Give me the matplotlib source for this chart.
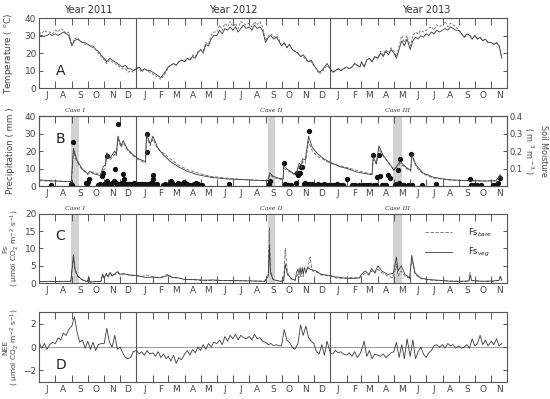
import matplotlib
matplotlib.use("Agg")
import matplotlib.pyplot as plt
import matplotlib.dates as mdates
import matplotlib.ticker as mticker
import numpy as np
import pandas as pd

# ---------------- data ----------------
# temperature, 6 readings per month (days 1,6,11,16,21,26), Jul 2011 - Nov 2013
temp_veg = [
    [30, 30, 29.5, 30, 31, 30], [31, 30, 31, 32, 31, 30], [24, 27, 28, 27, 26, 26],
    [25, 24, 24, 22, 21, 19], [17, 15, 17, 16, 15, 14], [13, 12, 13, 11, 11, 10],
    [11, 12, 10, 11, 10, 10], [9, 8, 7, 6, 8, 10], [12, 13, 14, 13, 15, 16],
    [15, 17, 16, 18, 17, 20], [22, 20, 25, 24, 28, 30], [30, 33, 31, 34, 33, 35],
    [33, 35, 32, 34, 36, 34], [35, 33, 36, 34, 35, 33], [26, 29, 30, 28, 29, 27],
    [24, 26, 23, 25, 22, 21], [20, 18, 19, 17, 15, 16], [13, 11, 9, 10, 12, 14],
    [11, 9, 10, 11, 10, 11], [12, 11, 12, 14, 13, 12], [15, 12, 16, 17, 15, 18],
    [17, 20, 18, 21, 19, 22], [20, 17, 22, 27, 24, 28], [22, 27, 29, 28, 30, 29],
    [31, 30, 32, 31, 33, 32], [33, 34, 33, 35, 34, 33], [33, 31, 29, 31, 30, 28],
    [30, 28, 29, 27, 28, 26], [26, 25, 26, 24, 17, np.nan],
]
temp_bare = [
    [32, 31, 33, 32, 32, 31], [33, 32, 34, 33, 31, 32], [25, 28, 29, 27, 26, 25],
    [25, 24, 23, 22, 20, 18], [16, 14, 16, 15, 14, 13], [12, 11, 11, 9, 10, 9],
    [12, 11, 9, 11, 10, 9], [8, 7, 6, 5, 7, 9], [12, 13, 14, 13, 15, 16],
    [15, 17, 16, 19, 18, 21], [22, 21, 26, 25, 30, 32], [32, 36, 33, 37, 35, 38],
    [35, 37, 34, 38, 37, 36], [37, 35, 38, 36, 38, 35], [27, 30, 31, 29, 30, 28],
    [24, 26, 23, 25, 22, 21], [20, 18, 18, 16, 15, 15], [13, 11, 8, 9, 11, 13],
    [11, 9, 10, 11, 10, 11], [12, 11, 12, 14, 13, 12], [15, 12, 16, 17, 15, 18],
    [17, 21, 19, 22, 20, 23], [21, 18, 24, 30, 26, 30], [24, 30, 32, 31, 33, 32],
    [33, 34, 35, 33, 36, 35], [36, 38, 35, 37, 36, 35], [33, 31, 29, 30, 31, 28],
    [30, 28, 29, 27, 28, 26], [26, 25, 26, 24, 18, np.nan],
]

# NEE, same monthly sampling
nee = [
    [0.4, -0.1, 0.3, -0.2, 0.2, 0.4], [0.3, 0.8, 0.6, 1.2, 1.0, 1.5], [1.8, 2.6, 1.2, 0.4, 0.6, -0.1],
    [0.5, -0.2, 0.4, -0.3, 0.2, 0.3], [0.3, 1.6, 0.4, 0.0, 1.0, -0.2], [0.0, -0.5, -0.9, -1.0, -0.9, -0.4],
    [-0.3, -0.6, -0.4, -0.7, -0.3, -0.6], [-0.5, -0.8, -0.4, -0.9, -0.6, -1.0], [-0.8, -1.2, -0.7, -1.4, -0.9, -1.1],
    [-0.6, -0.3, -0.7, -0.2, -0.5, 0.0], [-0.3, 0.2, -0.2, 0.3, 0.0, 0.4], [0.3, 0.6, 0.2, 0.9, 0.5, 1.0],
    [0.7, 1.1, 0.6, 1.0, 0.8, 0.7], [0.9, 0.6, 1.1, 0.7, 0.8, 0.5], [0.4, 0.2, 0.3, 0.1, 0.2, 0.1],
    [0.1, 1.5, 0.6, 0.4, 0.0, -0.2], [0.3, 1.9, 1.0, 1.8, 0.8, 0.5], [0.3, -0.4, -0.6, 0.2, -0.7, 0.5],
    [-0.5, -0.6, -0.3, -0.5, -0.4, -0.6], [-0.7, -0.5, -0.8, -0.4, -0.9, -0.6], [-0.3, 0.5, -0.8, -0.3, -1.0, -0.6],
    [-0.7, -0.8, -0.6, -0.9, -0.7, -0.5], [-0.4, 0.4, -0.9, 0.2, -1.0, 0.7], [-0.8, 0.6, -1.0, -0.4, 0.0, -0.6],
    [-0.9, -0.5, -0.3, 0.1, 0.2, 0.0], [0.2, -0.1, 0.3, 0.1, 0.2, -0.1], [0.1, -0.1, 0.0, 0.2, -0.1, 0.7],
    [0.1, 0.3, 1.0, 0.2, 0.6, 0.1], [0.5, 0.2, 0.7, 0.1, 0.3, np.nan],
]

# precipitation events (mm)
rain_dates = [
    "2011-07-24", "2011-08-31", "2011-09-01", "2011-09-04", "2011-09-27", "2011-09-29", "2011-10-02",
    "2011-10-04", "2011-10-20", "2011-10-25", "2011-10-28", "2011-10-30", "2011-10-31", "2011-11-03",
    "2011-11-06", "2011-11-07", "2011-11-10", "2011-11-13", "2011-11-16", "2011-11-19", "2011-11-21",
    "2011-11-23", "2011-11-25", "2011-11-27", "2011-11-30", "2011-12-03", "2011-12-05", "2011-12-07",
    "2011-12-08", "2011-12-10", "2011-12-14", "2011-12-18", "2011-12-22", "2011-12-27", "2011-12-31",
    "2012-01-03", "2012-01-06", "2012-01-09", "2012-01-12", "2012-01-15", "2012-01-18", "2012-01-20",
    "2012-01-21", "2012-01-23", "2012-01-26", "2012-01-29", "2012-02-01", "2012-02-02", "2012-02-05",
    "2012-02-08", "2012-02-20", "2012-02-23", "2012-02-26", "2012-03-01", "2012-03-03", "2012-03-06",
    "2012-03-09", "2012-03-12", "2012-03-15", "2012-03-20", "2012-03-26", "2012-03-30", "2012-04-02",
    "2012-04-06", "2012-04-09", "2012-04-14", "2012-04-18", "2012-04-22", "2012-04-27", "2012-05-03",
    "2012-06-24", "2012-09-07", "2012-09-09", "2012-10-05", "2012-10-07", "2012-10-10", "2012-10-14",
    "2012-10-18", "2012-10-28", "2012-10-30", "2012-11-01", "2012-11-03", "2012-11-05", "2012-11-07",
    "2012-11-09", "2012-11-13", "2012-11-15", "2012-11-17", "2012-11-21", "2012-11-22", "2012-11-24",
    "2012-11-28", "2012-12-02", "2012-12-05", "2012-12-08", "2012-12-14", "2012-12-17", "2012-12-20",
    "2012-12-24", "2012-12-27", "2012-12-30", "2013-01-03", "2013-01-06", "2013-01-09", "2013-01-13",
    "2013-01-16", "2013-01-20", "2013-01-25", "2013-02-02", "2013-02-12", "2013-02-16", "2013-02-24",
    "2013-03-04", "2013-03-09", "2013-03-14", "2013-03-18", "2013-03-23", "2013-03-25", "2013-03-28",
    "2013-03-31", "2013-04-03", "2013-04-05", "2013-04-08", "2013-04-12", "2013-04-16", "2013-04-21",
    "2013-04-24", "2013-05-04", "2013-05-06", "2013-05-08", "2013-05-10", "2013-05-13", "2013-05-15",
    "2013-05-20", "2013-05-28", "2013-06-03", "2013-06-05", "2013-06-24", "2013-07-20", "2013-09-22",
    "2013-09-24", "2013-09-30", "2013-10-05", "2013-10-12", "2013-11-05", "2013-11-09", "2013-11-13",
    "2013-11-18",
]
rain_mm = [
    0.5, 1, 0.5, 25, 1.5, 0.5, 2.5,
    4, 0.5, 1, 6, 7.5, 1, 1,
    17, 3, 1, 1, 2, 3, 10,
    2, 1, 35.5, 1, 1, 2, 7,
    4, 1, 1, 1, 1, 1.5, 1,
    1, 0.5, 1, 1, 0.5, 1, 30,
    19.5, 1, 1, 2, 6.5, 4, 1,
    1, 0.5, 1, 0.5, 0.5, 1, 3,
    1.5, 0.5, 0.5, 2, 1, 2.5, 1.5,
    1, 0.5, 0.5, 1, 1.5, 1, 0.5,
    1, 1, 3, 13, 1, 0.5, 0.5,
    0.5, 2, 7.5, 6.5, 7.5, 7.5, 11,
    11, 1, 2, 1, 31.5, 1, 0.5,
    1, 0.5, 0.5, 1, 0.5, 0.5, 1,
    0.5, 0.5, 0.5, 0.5, 0.5, 0.5, 1,
    0.5, 0.5, 0.5, 4, 0.5, 0.5, 0.5,
    0.5, 0.5, 0.5, 0.5, 17.5, 0.5, 0.5,
    5, 17.5, 5.5, 0.5, 0.5, 0.5, 6.5,
    4.5, 0.5, 1, 9, 2, 15.5, 0.5,
    0.5, 0.5, 18.5, 0.5, 0.5, 1, 4,
    0.5, 0.5, 0.5, 0.5, 0.5, 0.5, 1.5,
    4.5,
]

# soil moisture (m3 m-3)
sm_dates = [
    "2011-07-01", "2011-07-24", "2011-08-31", "2011-09-04", "2011-09-10", "2011-09-20", "2011-10-01",
    "2011-10-05", "2011-10-12", "2011-10-25", "2011-10-30", "2011-11-03", "2011-11-06", "2011-11-12",
    "2011-11-21", "2011-11-24", "2011-11-27", "2011-12-03", "2011-12-07", "2011-12-15", "2011-12-25",
    "2012-01-05", "2012-01-18", "2012-01-20", "2012-01-27", "2012-02-01", "2012-02-10", "2012-02-20",
    "2012-03-05", "2012-03-20", "2012-04-05", "2012-04-25", "2012-05-20", "2012-06-20", "2012-07-31",
    "2012-09-05", "2012-09-09", "2012-09-15", "2012-09-25", "2012-10-04", "2012-10-05", "2012-10-12",
    "2012-10-25", "2012-10-30", "2012-11-03", "2012-11-07", "2012-11-10", "2012-11-15", "2012-11-21",
    "2012-11-28", "2012-12-08", "2012-12-20", "2013-01-01", "2013-01-20", "2013-02-02", "2013-02-20",
    "2013-03-10", "2013-03-21", "2013-03-23", "2013-03-29", "2013-04-03", "2013-04-10", "2013-04-22",
    "2013-05-01", "2013-05-08", "2013-05-13", "2013-05-25", "2013-06-02", "2013-06-04", "2013-06-12",
    "2013-06-25", "2013-07-15", "2013-08-15", "2013-09-20", "2013-10-20", "2013-11-10", "2013-11-18",
    "2013-11-22",
]
sm_veg = [
    0.035, 0.030, 0.025, 0.215, 0.15, 0.10, 0.07,
    0.085, 0.07, 0.06, 0.11, 0.12, 0.19, 0.16,
    0.20, 0.18, 0.285, 0.23, 0.26, 0.21, 0.18,
    0.155, 0.14, 0.30, 0.24, 0.285, 0.22, 0.18,
    0.14, 0.11, 0.085, 0.065, 0.05, 0.04, 0.035,
    0.03, 0.075, 0.055, 0.045, 0.04, 0.115, 0.095,
    0.07, 0.085, 0.13, 0.12, 0.155, 0.15, 0.285,
    0.22, 0.185, 0.155, 0.135, 0.11, 0.10, 0.08,
    0.07, 0.065, 0.165, 0.13, 0.23, 0.18, 0.13,
    0.09, 0.12, 0.14, 0.105, 0.09, 0.18, 0.12,
    0.075, 0.05, 0.035, 0.03, 0.028, 0.03, 0.065,
    0.045,
]
sm_bare = [
    0.03, 0.028, 0.025, 0.20, 0.14, 0.095, 0.065,
    0.075, 0.08, 0.065, 0.09, 0.10, 0.17, 0.15,
    0.18, 0.17, 0.265, 0.22, 0.245, 0.205, 0.175,
    0.15, 0.13, 0.28, 0.23, 0.27, 0.21, 0.19,
    0.155, 0.12, 0.095, 0.075, 0.055, 0.045, 0.035,
    0.03, 0.065, 0.05, 0.04, 0.035, 0.10, 0.09,
    0.065, 0.075, 0.11, 0.10, 0.14, 0.13, 0.255,
    0.20, 0.17, 0.15, 0.13, 0.115, 0.105, 0.09,
    0.075, 0.07, 0.15, 0.125, 0.215, 0.175, 0.13,
    0.095, 0.11, 0.13, 0.10, 0.085, 0.175, 0.11,
    0.07, 0.045, 0.035, 0.03, 0.03, 0.03, 0.055,
    0.04,
]

# soil CO2 efflux (umol CO2 m-2 s-1)
fs_dates = [
    "2011-07-01", "2011-07-20", "2011-08-10", "2011-08-30", "2011-09-04", "2011-09-07", "2011-09-12",
    "2011-09-20", "2011-09-30", "2011-10-03", "2011-10-05", "2011-10-26", "2011-10-29", "2011-11-01",
    "2011-11-05", "2011-11-08", "2011-11-12", "2011-11-16", "2011-11-22", "2011-11-26", "2011-12-01",
    "2011-12-08", "2011-12-18", "2012-01-01", "2012-01-12", "2012-01-20", "2012-02-01", "2012-02-15",
    "2012-03-01", "2012-03-08", "2012-03-20", "2012-04-01", "2012-04-20", "2012-05-05", "2012-05-25",
    "2012-06-15", "2012-07-10", "2012-08-05", "2012-08-30", "2012-09-06", "2012-09-08", "2012-09-10",
    "2012-09-15", "2012-09-28", "2012-10-05", "2012-10-08", "2012-10-12", "2012-10-20", "2012-10-27",
    "2012-10-29", "2012-11-01", "2012-11-03", "2012-11-05", "2012-11-07", "2012-11-09", "2012-11-11",
    "2012-11-13", "2012-11-16", "2012-11-19", "2012-11-24", "2012-11-28", "2012-12-05", "2012-12-15",
    "2012-12-31", "2013-01-10", "2013-01-25", "2013-02-10", "2013-02-25", "2013-03-01", "2013-03-08",
    "2013-03-15", "2013-03-20", "2013-03-26", "2013-04-01", "2013-04-08", "2013-04-20", "2013-04-30",
    "2013-05-06", "2013-05-09", "2013-05-15", "2013-05-22", "2013-05-31", "2013-06-04", "2013-06-10",
    "2013-06-20", "2013-07-05", "2013-07-25", "2013-08-15", "2013-09-05", "2013-09-20", "2013-09-22",
    "2013-09-25", "2013-10-15", "2013-11-05", "2013-11-16", "2013-11-18", "2013-11-21",
]
fs_veg = [
    0.4, 0.5, 0.4, 0.5, 8.2, 4.0, 2.0,
    1.0, 0.4, 1.8, 0.3, 0.5, 2.6, 1.5,
    2.8, 1.8, 3.1, 2.0, 2.8, 3.3, 2.5,
    2.7, 2.3, 2.2, 1.8, 1.6, 1.7, 1.5,
    2.2, 1.6, 1.5, 1.0, 1.0, 0.8, 0.9,
    0.7, 0.7, 0.6, 0.5, 2.0, 11.0, 3.0,
    1.0, 0.5, 0.6, 5.5, 2.5, 1.2, 0.8,
    3.0, 4.0, 2.5, 4.5, 2.5, 4.5, 2.5,
    4.5, 3.0, 4.5, 4.0, 3.8, 3.5, 2.5,
    2.2, 1.8, 1.5, 1.3, 1.5, 2.5, 3.5,
    2.5, 4.2, 3.0, 5.0, 3.5, 2.5, 2.8,
    7.5, 3.5, 5.0, 2.5, 1.5, 8.0, 3.0,
    1.5, 1.0, 0.8, 0.5, 0.5, 0.6, 2.3,
    0.7, 0.5, 0.6, 0.8, 2.0, 0.8,
]
fs_bare = [
    0.4, 0.4, 0.5, 0.5, 7.5, 3.5, 1.8,
    0.9, 0.4, 1.6, 0.3, 0.5, 2.2, 1.4,
    2.6, 1.7, 3.0, 2.2, 2.5, 3.2, 2.4,
    2.6, 2.4, 2.1, 1.9, 2.3, 1.8, 1.6,
    2.6, 1.7, 1.4, 1.1, 0.9, 0.8, 0.7,
    0.7, 0.6, 0.6, 0.5, 3.0, 16.0, 4.0,
    1.0, 0.5, 0.7, 10.0, 3.0, 1.0, 0.8,
    2.0, 2.5, 1.5, 2.5, 1.8, 2.2, 1.8,
    2.5, 3.0, 4.0, 7.5, 3.5, 3.3, 2.3,
    2.0, 1.5, 1.3, 1.6, 1.4, 2.0, 2.8,
    2.3, 3.5, 2.8, 4.0, 3.0, 2.0, 1.5,
    5.5, 2.0, 3.5, 2.0, 1.3, 7.0, 2.5,
    1.3, 0.9, 0.7, 0.6, 0.5, 0.5, 3.0,
    0.7, 0.5, 0.5, 0.8, 1.8, 0.7,
]

cases = [("Case I", "2011-08-31", "2011-09-15"),
         ("Case II", "2012-09-05", "2012-09-19"),
         ("Case III", "2013-04-30", "2013-05-17")]

month_letters = "JFMAMJJASOND"
# ---------------------------------------------------------


def monthly_dates(n_months, days=(1, 6, 11, 16, 21, 26)):
    out = []
    for m in range(n_months):
        y = 2011 + (6 + m) // 12
        mo = (6 + m) % 12 + 1
        for d in days:
            out.append(pd.Timestamp(y, mo, d))
    return out


t_dates = monthly_dates(len(temp_veg))
t_veg = np.array(temp_veg, dtype=float).ravel()
t_bare = np.array(temp_bare, dtype=float).ravel()
nee_vals = np.array(nee, dtype=float).ravel()
rain_d = pd.to_datetime(rain_dates)
sm_d = pd.to_datetime(sm_dates)
fs_d = pd.to_datetime(fs_dates)

xmin, xmax = pd.Timestamp("2011-07-01"), pd.Timestamp("2013-12-01")
lc = "#3a3a3a"
tc = "#444444"

plt.rcParams["font.family"] = "DejaVu Sans"
fig = plt.figure(figsize=(5.5, 3.99), dpi=100)

L, W = 0.071, 0.851
axA = fig.add_axes([L, 0.7794, W, 0.1754])
axB = fig.add_axes([L, 0.5338, W, 0.1754])
axC = fig.add_axes([L, 0.2907, W, 0.1730])
axD = fig.add_axes([L, 0.0426, W, 0.1754])


def style(ax):
    ax.set_xlim(xmin, xmax)
    ax.xaxis.set_major_locator(mdates.MonthLocator())
    ax.xaxis.set_major_formatter(mticker.NullFormatter())
    ax.xaxis.set_minor_locator(mdates.MonthLocator(bymonthday=16))
    ax.xaxis.set_minor_formatter(mticker.FuncFormatter(
        lambda v, p: month_letters[mdates.num2date(v).month - 1]))
    ax.tick_params(axis="x", which="major", direction="in", length=5, top=True,
                   width=0.7, color="#555555")
    ax.tick_params(axis="x", which="minor", length=0, labelsize=6.5, pad=2.5,
                   labelcolor=tc)
    ax.tick_params(axis="y", direction="in", length=3, right=True, labelsize=6.5,
                   labelcolor=tc, width=0.7, color="#555555", pad=2)
    for s in ax.spines.values():
        s.set_color("#555555")
        s.set_linewidth(0.8)
    for yr in ("2012-01-01", "2013-01-01"):
        ax.axvline(pd.Timestamp(yr), color="#555555", lw=0.8)


def bands(ax, label_them):
    for name, a, b in cases:
        a, b = pd.Timestamp(a), pd.Timestamp(b)
        ax.axvspan(a, b, color="#d2d2d2", lw=0, zorder=0)
        if label_them:
            ax.text(a + (b - a) / 2, 1.04, name, transform=ax.get_xaxis_transform(),
                    ha="center", va="bottom", fontsize=4.5, style="italic",
                    family="DejaVu Serif", color="#333333")


# A: temperature
style(axA)
axA.plot(t_dates, t_bare, color="#666666", lw=0.6, ls=(0, (3, 2)))
axA.plot(t_dates, t_veg, color=lc, lw=0.6)
axA.set_ylim(0, 40)
axA.set_yticks([0, 10, 20, 30, 40])
axA.set_ylabel("Temperature ( $^{o}$C)", fontsize=6.3, color=tc)
axA.yaxis.set_label_coords(-0.052, 0.5)
axA.text(0.035, 0.18, "A", transform=axA.transAxes, fontsize=10, color="#222222")

# B: precipitation and soil moisture
style(axB)
bands(axB, True)
axB.plot(rain_d, rain_mm, "o", color="#111111", ms=2.8, zorder=3)
axB.set_ylim(0, 40)
axB.set_yticks([0, 10, 20, 30, 40])
axB.set_ylabel("Precipitation ( mm )", fontsize=6.3, color=tc)
axB.yaxis.set_label_coords(-0.052, 0.5)
axB.text(0.035, 0.62, "B", transform=axB.transAxes, fontsize=10, color="#222222")
axB.tick_params(axis="y", right=False)
axB2 = axB.twinx()
axB2.set_xlim(xmin, xmax)
axB2.plot(sm_d, sm_bare, color="#666666", lw=0.6, ls=(0, (4, 2)))
axB2.plot(sm_d, sm_veg, color=lc, lw=0.6)
axB2.set_ylim(0, 0.4)
axB2.set_yticks([0.1, 0.2, 0.3, 0.4])
axB2.tick_params(axis="y", direction="in", length=3, labelsize=6, labelcolor=tc,
                 width=0.7, color="#555555", pad=1.5)
for s in axB2.spines.values():
    s.set_color("#555555")
    s.set_linewidth(0.8)
axB2.set_ylabel("Soil Moisture\n( m $^{3}$ m $^{-3}$ )", rotation=270, fontsize=5.8,
                color=tc, linespacing=1.3, va="center", ha="center")
axB2.yaxis.set_label_coords(1.06, 0.5)

# C: soil CO2 efflux
style(axC)
bands(axC, True)
axC.plot(fs_d, fs_bare, color="#666666", lw=0.6, ls=(0, (4, 2)), label="Fs$_{bare}$")
axC.plot(fs_d, fs_veg, color=lc, lw=0.6, label="Fs$_{veg}$")
axC.set_ylim(0, 20)
axC.set_yticks([0, 5, 10, 15, 20])
axC.set_ylabel("Fs\n( μmol CO$_2$ m$^{-2}$ s$^{-1}$)", fontsize=5.4, color=tc,
               linespacing=1.05, va="center")
axC.yaxis.set_label_coords(-0.058, 0.5)
axC.text(0.035, 0.62, "C", transform=axC.transAxes, fontsize=10, color="#222222")
axC.legend(loc="upper right", bbox_to_anchor=(0.985, 0.93), frameon=False,
           fontsize=6, handlelength=3.2, handletextpad=2.0, labelspacing=0.9,
           labelcolor="#222222")

# D: NEE
style(axD)
axD.axhline(0, color="#9a9a9a", lw=0.7, zorder=1)
axD.plot(t_dates, nee_vals, color=lc, lw=0.6)
axD.set_ylim(-3, 3)
axD.set_yticks([-2, 0, 2])
axD.set_ylabel("NEE\n( μmol CO$_2$ m$^{-2}$ s$^{-1}$)", fontsize=5.4, color=tc,
               linespacing=1.05, va="center")
axD.yaxis.set_label_coords(-0.058, 0.5)
axD.text(0.035, 0.18, "D", transform=axD.transAxes, fontsize=10, color="#222222")

for x, t in ((0.16, "Year 2011"), (0.424, "Year 2012"), (0.775, "Year 2013")):
    fig.text(x, 0.975, t, ha="center", va="center", fontsize=7, color="#333333")

fig.savefig("out.png", dpi=100)
